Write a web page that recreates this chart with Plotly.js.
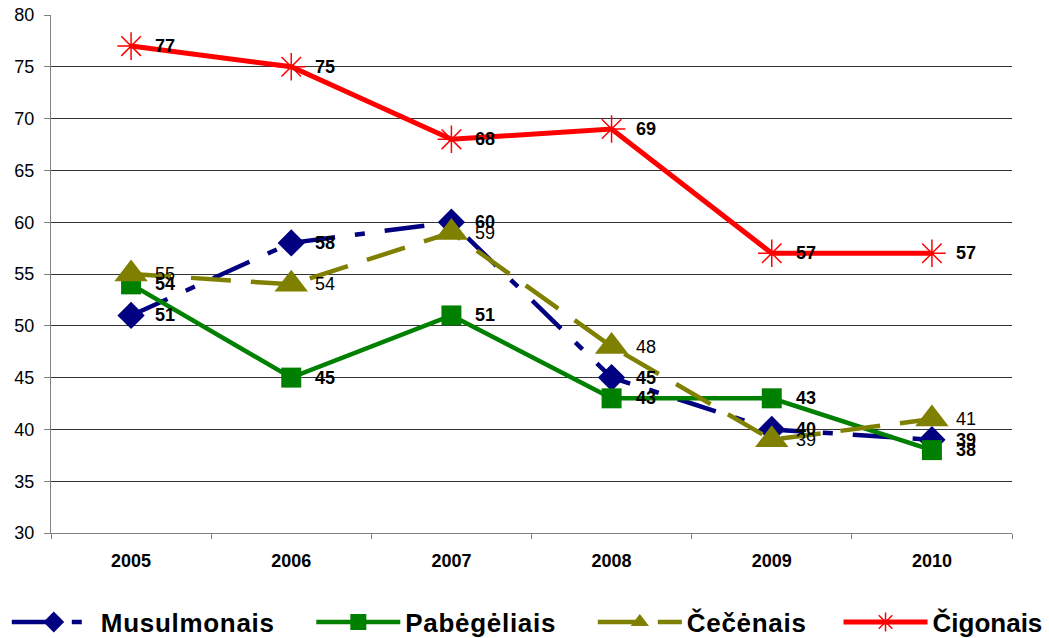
<!DOCTYPE html>
<html>
<head>
<meta charset="utf-8">
<script src="https://cdn.plot.ly/plotly-3.0.1.min.js"></script>
<style>
html, body { margin: 0; padding: 0; background: #fff; }
#chart { width: 1049px; height: 638px; }
.legendtext { letter-spacing: 0.7px; }
</style>
</head>
<body>
<div id="chart"></div>
<script>
const years = ['2005', '2006', '2007', '2008', '2009', '2010'];
const musulmonais = [51, 58, 60, 45, 40, 39];
const pabegeliais = [54, 45, 51, 43, 43, 38];
const cecenais = [55, 54, 59, 48, 39, 41];
const cigonais = [77, 75, 68, 69, 57, 57];
const seriesNames = ['Musulmonais', 'Pabėgėliais', 'Čečėnais', 'Čigonais'];
const yTicks = [30, 35, 40, 45, 50, 55, 60, 65, 70, 75, 80];

const FONT = 'Liberation Sans, Arial, sans-serif';
const NB = '\u00a0';

const series = [
  { name: seriesNames[0], y: musulmonais, color: '#000080', dash: '40px,20px,10px,20px', symbol: 'diamond', size: 21, bold: true, legend: 'legend', pad: 4, width: 4.5 },
  { name: seriesNames[1], y: pabegeliais, color: '#008000', dash: 'solid', symbol: 'square', size: 20, bold: true, legend: 'legend', pad: 4, width: 4.5 },
  { name: seriesNames[2], y: cecenais, color: '#808000', dash: '40px,20px', symbol: 'triangle-up', size: 29, bold: false, legend: 'legend', pad: 4, width: 4.5 },
  { name: seriesNames[3], y: cigonais, color: '#ff0000', dash: 'solid', symbol: 'asterisk-open', size: 23, bold: true, legend: 'legend2', pad: 0, width: 5 }
];

const traces = series.map(s => ({
  type: 'scatter',
  mode: 'lines+markers',
  x: years,
  y: s.y,
  name: s.name + NB.repeat(s.pad),
  legend: s.legend,
  line: { color: s.color, width: s.width, dash: s.dash },
  marker: {
    symbol: s.symbol,
    size: s.size,
    color: s.color,
    line: { color: s.color, width: s.symbol === 'asterisk-open' ? 1.5 : 0 }
  },
  hoverinfo: 'x+y+name'
}));

const annotations = [];
series.forEach(s => {
  s.y.forEach((v, i) => {
    annotations.push({
      x: i, y: v, xref: 'x', yref: 'y',
      text: String(v),
      showarrow: false,
      xanchor: 'left', yanchor: 'middle',
      xshift: 22,
      font: { family: FONT, size: 18, color: '#000', weight: s.bold ? 'bold' : 'normal' }
    });
  });
});

const legendCommon = {
  orientation: 'h',
  yanchor: 'middle',
  y: -0.172,
  xanchor: 'left',
  font: { family: FONT, size: 26, color: '#000', weight: 'bold' },
  itemwidth: 84,
  traceorder: 'normal',
  bgcolor: 'rgba(0,0,0,0)'
};

const layout = {
  width: 1049,
  height: 638,
  margin: { l: 51, r: 37, t: 15, b: 105, autoexpand: false },
  paper_bgcolor: '#ffffff',
  plot_bgcolor: '#ffffff',
  font: { family: FONT, color: '#000' },
  showlegend: true,
  legend: Object.assign({}, legendCommon, { x: -0.046 }),
  legend2: Object.assign({}, legendCommon, { x: 0.8195 }),
  xaxis: {
    type: 'category',
    range: [-0.5, 5.5],
    tickson: 'boundaries',
    ticks: 'outside',
    ticklen: 5,
    tickcolor: '#808080',
    showgrid: false,
    showline: true,
    linecolor: '#808080',
    linewidth: 1,
    tickfont: { family: FONT, size: 18, color: '#000', weight: 'bold' },
    ticklabelstandoff: 11,
    fixedrange: true
  },
  yaxis: {
    range: [30, 80],
    tickvals: yTicks,
    ticktext: yTicks.map(String),
    ticks: 'outside',
    ticklen: 6,
    tickcolor: '#808080',
    showgrid: true,
    gridcolor: '#333333',
    gridwidth: 1,
    showline: true,
    linecolor: '#808080',
    linewidth: 1,
    zeroline: false,
    tickfont: { family: FONT, size: 18, color: '#000' },
    ticklabelstandoff: 6,
    fixedrange: true
  },
  annotations: annotations
};

Plotly.newPlot('chart', traces, layout, { displayModeBar: false, staticPlot: true });
</script>
</body>
</html>
